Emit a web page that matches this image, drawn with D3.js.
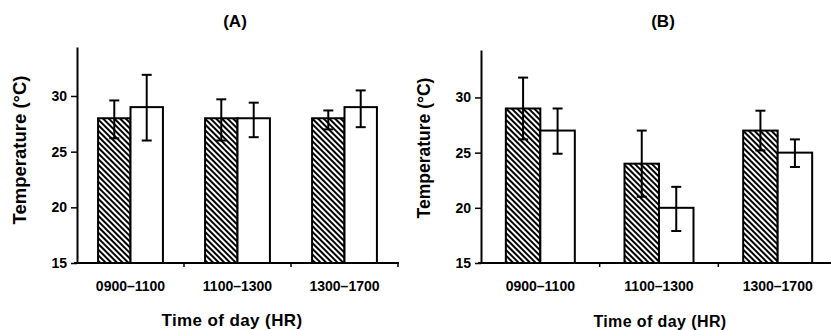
<!DOCTYPE html>
<html>
<head>
<meta charset="utf-8">
<script src="https://cdn.jsdelivr.net/npm/d3@7"></script>
<style>
  body { margin: 0; background: #fff; }
  svg text { font-family: "Liberation Sans", Arial, sans-serif; font-weight: bold; fill: #000; }
</style>
</head>
<body>
<svg id="chart" width="831" height="330"></svg>
<script>
const categories = ["0900\u20131100", "1100\u20131300", "1300\u20131700"];
const series = ["hatched", "open"];
const yTicks = [15, 20, 25, 30];

// panel A
const aHatched = [28, 28, 28];
const aHatchedLo = [26.2, 26.0, 27.0];
const aHatchedHi = [29.6, 29.7, 28.7];
const aOpen = [29, 28, 29];
const aOpenLo = [26.0, 26.3, 27.2];
const aOpenHi = [31.9, 29.4, 30.5];

// panel B
const bHatched = [29, 24, 27];
const bHatchedLo = [26.2, 21.0, 25.2];
const bHatchedHi = [31.8, 27.0, 28.8];
const bOpen = [27, 20, 25];
const bOpenLo = [24.9, 17.9, 23.7];
const bOpenHi = [29.0, 21.9, 26.2];

const svg = d3.select("#chart");

const defs = svg.append("defs");
const pat = defs.append("pattern")
  .attr("id", "hatch")
  .attr("patternUnits", "userSpaceOnUse")
  .attr("width", 4)
  .attr("height", 4)
  .attr("patternTransform", "rotate(-45)");
pat.append("rect").attr("width", 4).attr("height", 4).attr("fill", "#fff");
pat.append("line")
  .attr("x1", 1).attr("y1", 0).attr("x2", 1).attr("y2", 4)
  .attr("stroke", "#000").attr("stroke-width", 2);

function panel(opt) {
  const g = svg.append("g");

  const x = d3.scaleBand()
    .domain(categories)
    .range([opt.x0, opt.x1]);

  const inner = d3.scaleBand()
    .domain(series)
    .range([0, x.bandwidth()])
    .paddingOuter(opt.outer);

  const y = d3.scaleLinear()
    .domain([15, opt.yTop])
    .range([opt.yBase, opt.yTopPx]);

  const rows = [];
  categories.forEach((c, i) => {
    rows.push({ cat: c, s: "hatched", v: opt.hatched[i], lo: opt.hatchedLo[i], hi: opt.hatchedHi[i] });
    rows.push({ cat: c, s: "open", v: opt.open[i], lo: opt.openLo[i], hi: opt.openHi[i] });
  });

  g.selectAll("rect.bar")
    .data(rows)
    .enter()
    .append("rect")
    .attr("class", "bar")
    .attr("x", d => x(d.cat) + inner(d.s))
    .attr("y", d => y(d.v))
    .attr("width", inner.bandwidth())
    .attr("height", d => y(15) - y(d.v))
    .attr("fill", d => d.s === "hatched" ? "url(#hatch)" : "#fff")
    .attr("stroke", "#000")
    .attr("stroke-width", 2);

  // error bars
  const eb = g.selectAll("g.err")
    .data(rows)
    .enter()
    .append("g")
    .attr("class", "err")
    .attr("transform", d => `translate(${x(d.cat) + inner(d.s) + inner.bandwidth() / 2},0)`);
  eb.append("line")
    .attr("y1", d => y(d.lo)).attr("y2", d => y(d.hi))
    .attr("stroke", "#000").attr("stroke-width", 2);
  eb.append("line")
    .attr("x1", -5).attr("x2", 5)
    .attr("y1", d => y(d.hi)).attr("y2", d => y(d.hi))
    .attr("stroke", "#000").attr("stroke-width", 2);
  eb.append("line")
    .attr("x1", -5).attr("x2", 5)
    .attr("y1", d => y(d.lo)).attr("y2", d => y(d.lo))
    .attr("stroke", "#000").attr("stroke-width", 2);

  // y axis
  const ya = g.append("g")
    .attr("transform", `translate(${opt.x0},0)`)
    .call(d3.axisLeft(y).tickValues(yTicks).tickSize(6).tickPadding(4).tickSizeOuter(0));
  ya.select(".domain").attr("stroke-width", 2);
  ya.selectAll(".tick line").attr("stroke-width", 1.5);
  ya.selectAll("text").style("font-size", "14px");

  // x axis (ticks at band boundaries)
  const xa = g.append("g")
    .attr("transform", `translate(0,${opt.yBase})`);
  xa.append("line")
    .attr("x1", opt.x0 - 3).attr("x2", opt.xEnd)
    .attr("stroke", "#000").attr("stroke-width", 2);
  xa.selectAll("line.tk")
    .data(categories)
    .enter()
    .append("line")
    .attr("class", "tk")
    .attr("x1", d => x(d) + x.bandwidth()).attr("x2", d => x(d) + x.bandwidth())
    .attr("y1", 0).attr("y2", 4)
    .attr("stroke", "#000").attr("stroke-width", 1.5);
  xa.selectAll("text")
    .data(categories)
    .enter()
    .append("text")
    .attr("x", d => x(d) + x.bandwidth() / 2)
    .attr("y", 28)
    .attr("text-anchor", "middle")
    .style("font-size", "14px")
    .text(d => d);

  g.append("text")
    .attr("x", opt.titleX).attr("y", 27)
    .attr("text-anchor", "middle")
    .style("font-size", "17px")
    .text(opt.title);

  g.append("text")
    .attr("x", opt.xLabelX).attr("y", opt.xLabelY)
    .attr("text-anchor", "middle")
    .style("font-size", opt.xLabelSize + "px")
    .style("letter-spacing", "0.4px")
    .text("Time of day (HR)");

  g.append("text")
    .attr("transform", `translate(${opt.yLabelX},${opt.yLabelY}) rotate(-90)`)
    .attr("text-anchor", "middle")
    .style("font-size", opt.yLabelSize + "px")
    .text("Temperature (\u00b0C)");
}

panel({
  x0: 77, x1: 398, xEnd: 399, yBase: 263, yTopPx: 47, yTop: 34.4, outer: 0.65,
  hatched: aHatched, hatchedLo: aHatchedLo, hatchedHi: aHatchedHi,
  open: aOpen, openLo: aOpenLo, openHi: aOpenHi,
  title: "(A)", titleX: 235, xLabelX: 232, xLabelY: 326, xLabelSize: 17,
  yLabelX: 25.5, yLabelY: 150, yLabelSize: 18.5
});

panel({
  x0: 481, x1: 837, xEnd: 831, yBase: 263, yTopPx: 50, yTop: 34.3, outer: 0.72,
  hatched: bHatched, hatchedLo: bHatchedLo, hatchedHi: bHatchedHi,
  open: bOpen, openLo: bOpenLo, openHi: bOpenHi,
  title: "(B)", titleX: 663, xLabelX: 660, xLabelY: 327, xLabelSize: 16,
  yLabelX: 430, yLabelY: 148, yLabelSize: 17.5
});
</script>
</body>
</html>
